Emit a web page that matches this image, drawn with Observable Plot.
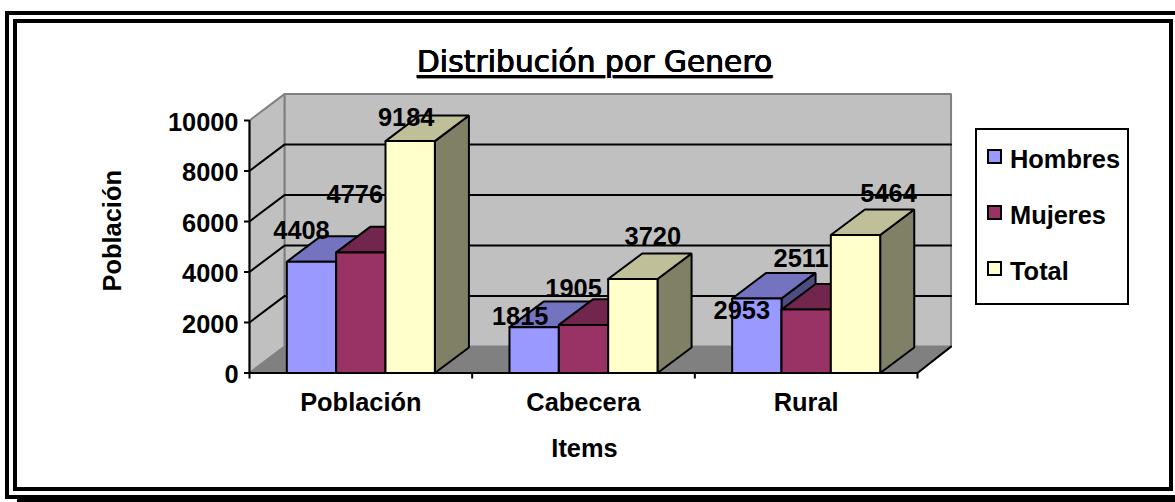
<!DOCTYPE html>
<html><head><meta charset="utf-8">
<script src="https://cdn.jsdelivr.net/npm/d3@7"></script>
<script src="https://cdn.jsdelivr.net/npm/@observablehq/plot@0.6"></script>
<style>
html,body{margin:0;padding:0;background:#fff;overflow:hidden}
#stage{position:relative;width:1175px;height:502px;font-family:"Liberation Sans",Arial,sans-serif;font-weight:bold;color:#000}
#stage svg{position:absolute;left:0;top:0;background:transparent}
.b{position:absolute;background:#000}
#title{position:absolute;left:417px;top:44px;font-family:"DejaVu Sans",sans-serif;font-size:29.5px;font-weight:normal;text-shadow:0.5px 0 0 #000,-0.5px 0 0 #000,0 0.4px 0 #000;letter-spacing:0.15px;text-decoration:underline;text-decoration-thickness:2.5px;text-underline-offset:3px;white-space:nowrap;line-height:36px}
#legend{position:absolute;left:975px;top:128px;width:150px;height:173px;border:2px solid #000;background:#fff}
.li{position:absolute;left:10px;white-space:nowrap;font-size:25.4px;line-height:28px}
.sw{display:inline-block;position:absolute;left:0;top:4px;width:11px;height:11px;border:2px solid #000}
.li span.t{margin-left:23px}
</style></head><body>
<div id="stage">
<div class="b" style="left:5px;top:11px;width:1170px;height:4px"></div>
<div class="b" style="left:5px;top:11px;width:4px;height:488px"></div>
<div class="b" style="left:13px;top:19px;width:1160px;height:4px"></div>
<div class="b" style="left:13px;top:19px;width:4px;height:472px"></div>
<div class="b" style="left:1169px;top:19px;width:4px;height:472px"></div>
<div class="b" style="left:13px;top:487px;width:1160px;height:4px"></div>
<div class="b" style="left:5px;top:495px;width:12px;height:4px"></div>
<div class="b" style="left:17px;top:495px;width:1158px;height:7px"></div>
<div id="plot"></div>
<div id="title">Distribución por Genero</div>
<div id="legend"></div>
</div>
<script>
const categories = ["Población", "Cabecera", "Rural"];
const seriesNames = ["Hombres", "Mujeres", "Total"];
const hombres = [4408, 1815, 2953];
const mujeres = [4776, 1905, 2511];
const total = [9184, 3720, 5464];
const yTicks = [0, 2000, 4000, 6000, 8000, 10000];

const faceColors = [
  {front:"#9999FF", top:"#7373BF", side:"#4D4D80"},
  {front:"#993366", top:"#73264D", side:"#4D1933"},
  {front:"#FFFFCC", top:"#BFBF99", side:"#808066"}
];
// depth of the 3-D box, in data units of each scale
const depthX = 0.153, depthY = 1012;
const wallDX = 0.157, wallDY = 1045;
const barW = 0.2216, gap = 0.1676;
// hand-placed data label offsets (px) from the bar's front-top centre
const labelOff = [
  [[-10,-31],[-6,-58],[-4,-23]],
  [[-14,-10],[-10,-36],[20,-42]],
  [[-15,12],[-5,-51],[33,-41]]
];
const fs = 25.4;
const poly = (pts, fill, stroke, sw=2) => Plot.line([...pts, pts[0]], {x:"0", y:"1", fill, stroke, strokeWidth:sw, strokeLinejoin:"miter", curve:"linear"});
const seg = (pts, stroke, sw=2) => Plot.line(pts, {x:"0", y:"1", stroke, strokeWidth:sw, curve:"linear"});

const n = categories.length, yMax = yTicks[yTicks.length-1];
const marks = [];
// walls & floor
marks.push(poly([[wallDX,wallDY],[n+wallDX*0.96,wallDY],[n+wallDX*0.96,yMax+wallDY],[wallDX,yMax+wallDY]], "#C0C0C0", "#808080"));
marks.push(poly([[0,0],[wallDX,wallDY],[wallDX,yMax+wallDY],[0,yMax]], "#C0C0C0", "#808080"));
marks.push(poly([[0,0],[wallDX,wallDY],[n+wallDX*0.96,wallDY],[n,0]], "#808080", "none"));
// gridlines
for (const t of yTicks.slice(1,-1)) {
  marks.push(seg([[0,t],[wallDX,t+wallDY],[n+wallDX*0.96,t+wallDY]], "#000"));
}
// floor front-right edge
marks.push(seg([[n,0],[n+wallDX*0.96,wallDY]], "#000"));
// bars, painted left to right
categories.forEach((c, g) => {
  [hombres, mujeres, total].forEach((vals, s) => {
    const v = vals[g], x0 = g + gap + s*barW, x1 = x0 + barW, col = faceColors[s];
    marks.push(poly([[x1,0],[x1+depthX,depthY],[x1+depthX,v+depthY],[x1,v]], col.side, "#000"));
    marks.push(poly([[x0,v],[x0+depthX,v+depthY],[x1+depthX,v+depthY],[x1,v]], col.top, "#000"));
    marks.push(poly([[x0,0],[x1,0],[x1,v],[x0,v]], col.front, "#000"));
  });
});
// axes
marks.push(Plot.ruleX([0], {y1:0, y2:yMax, stroke:"#000", strokeWidth:2}));
marks.push(Plot.ruleY([0], {stroke:"#000", strokeWidth:2}));
marks.push(Plot.axisY({ticks:yTicks, tickSize:5, tickFormat:()=>"", label:null, stroke:"#000", strokeWidth:2}));
marks.push(Plot.axisY({ticks:yTicks, tickSize:0, tickPadding:11, dy:2, tickFormat:d=>String(d), fontSize:fs, fontWeight:"bold", label:null, fill:"#000"}));
marks.push(Plot.axisX({ticks:d3.range(n+1), tickSize:6, tickFormat:()=>"", label:null, stroke:"#000", strokeWidth:2}));
marks.push(Plot.axisX({ticks:categories.map((_,i)=>i+0.5), tickSize:0, tickPadding:20, tickFormat:d=>categories[Math.floor(d)], fontSize:fs, fontWeight:"bold", label:null, fill:"#000"}));
// axis titles
marks.push(Plot.text(["Items"], {frameAnchor:"bottom", dy:76, dx:1, fontSize:fs, fontWeight:"bold", fill:"#000", textAnchor:"middle", lineAnchor:"middle"}));
marks.push(Plot.text(["Población"], {frameAnchor:"left", dx:-137, dy:-16, rotate:-90, fontSize:fs, fontWeight:"bold", fill:"#000", textAnchor:"middle", lineAnchor:"middle"}));
// data labels
categories.forEach((c, g) => {
  [hombres, mujeres, total].forEach((vals, s) => {
    const [dx, dy] = labelOff[g][s];
    marks.push(Plot.text([vals[g]], {x:g+gap+(s+0.5)*barW, y:d=>d, text:d=>String(d), dx, dy, fontSize:fs, fontWeight:"bold", fill:"#000", textAnchor:"middle", lineAnchor:"middle"}));
  });
});

const chart = Plot.plot({
  width:1175, height:502,
  marginLeft:249, marginRight:258, marginTop:120, marginBottom:129.5,
  style:{background:"transparent", fontFamily:'"Liberation Sans",Arial,sans-serif', overflow:"visible"},
  x:{type:"linear", domain:[0,n], axis:null},
  y:{type:"linear", domain:[0,yMax], axis:null},
  marks
});
document.getElementById("plot").append(chart);

const legend = document.getElementById("legend");
seriesNames.forEach((name,i)=>{
  const el = document.createElement("div");
  el.className = "li"; el.style.top = (14.5 + i*56) + "px";
  el.innerHTML = `<span class="sw" style="background:${faceColors[i].front}"></span><span class="t">${name}</span>`;
  legend.append(el);
});
</script></body></html>
